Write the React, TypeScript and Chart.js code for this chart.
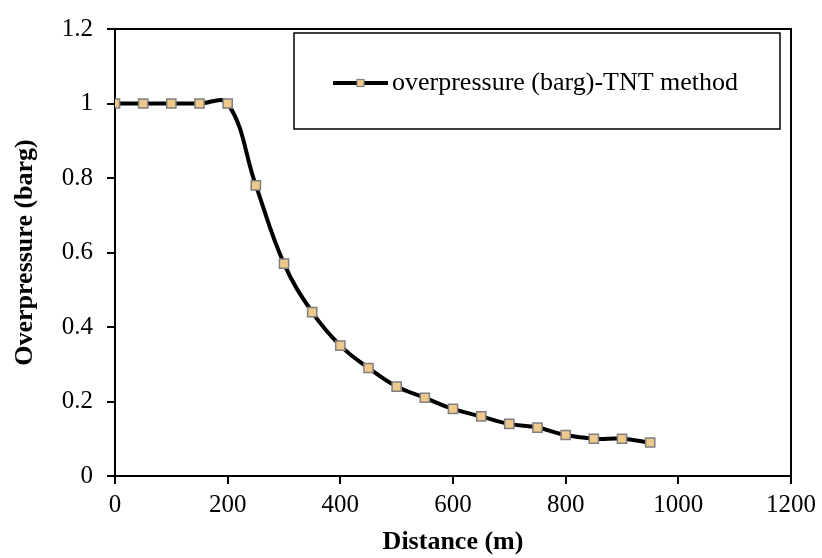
import React, { useEffect, useRef } from "react";
import { Chart, registerables } from "chart.js";

Chart.register(...registerables);

const distances = [0, 50, 100, 150, 200, 250, 300, 350, 400, 450, 500, 550, 600, 650, 700, 750, 800, 850, 900, 950];
const overpressure = [1, 1, 1, 1, 1, 0.78, 0.57, 0.44, 0.35, 0.29, 0.24, 0.21, 0.18, 0.16, 0.14, 0.13, 0.11, 0.1, 0.1, 0.09];
const seriesLabel = "overpressure (barg)-TNT method";
const xTitle = "Distance (m)";
const yTitle = "Overpressure (barg)";

const FONT = "'Liberation Serif', 'Times New Roman', serif";
const MARKER_FILL = "#EFC98B";
const MARKER_BORDER = "#7F7F7F";

const fmt = (v: any) => String(Math.round(Number(v) * 1000) / 1000);

const framePlugin = {
  id: "frameAndLegend",
  afterDraw(chart: any) {
    const { ctx, chartArea } = chart;
    ctx.save();
    ctx.strokeStyle = "#000";
    ctx.lineWidth = 2;
    ctx.beginPath();
    ctx.moveTo(chartArea.left, chartArea.top);
    ctx.lineTo(chartArea.right, chartArea.top);
    ctx.lineTo(chartArea.right, chartArea.bottom);
    ctx.stroke();

    const bx = 294, by = 33, bw = 486, bh = 96;
    ctx.fillStyle = "#fff";
    ctx.fillRect(bx, by, bw, bh);
    ctx.lineWidth = 1.5;
    ctx.strokeStyle = "#000";
    ctx.strokeRect(bx, by, bw, bh);
    const cy = by + bh / 2 + 2;
    ctx.lineWidth = 4;
    ctx.beginPath();
    ctx.moveTo(333, cy);
    ctx.lineTo(388, cy);
    ctx.stroke();
    ctx.fillStyle = MARKER_FILL;
    ctx.strokeStyle = MARKER_BORDER;
    ctx.lineWidth = 1.2;
    ctx.fillRect(357, cy - 3.5, 7, 7);
    ctx.strokeRect(357, cy - 3.5, 7, 7);
    ctx.fillStyle = "#000";
    ctx.font = `26px ${FONT}`;
    ctx.textBaseline = "middle";
    ctx.textAlign = "left";
    ctx.fillText(chart.data.datasets[0].label, 392, cy);
    ctx.restore();
  },
};

export default function App() {
  const ref = useRef<HTMLCanvasElement>(null);
  useEffect(() => {
    if (!ref.current) return;
    const chart = new Chart(ref.current, {
      type: "line",
      data: {
        datasets: [
          {
            label: seriesLabel,
            data: distances.map((x, i) => ({ x, y: overpressure[i] })),
            borderColor: "#000",
            borderWidth: 4,
            tension: 0.4,
            pointStyle: "rect",
            pointRadius: 6.5,
            pointBackgroundColor: MARKER_FILL,
            pointBorderColor: MARKER_BORDER,
            pointBorderWidth: 1.5,
            fill: false,
          },
        ],
      },
      options: {
        responsive: false,
        animation: false,
        devicePixelRatio: 1,
        layout: { padding: { top: 19, right: 30, left: 0, bottom: 0 } },
        plugins: { legend: { display: false }, tooltip: { enabled: false } },
        scales: {
          x: {
            type: "linear",
            min: 0,
            max: 1200,
            ticks: { stepSize: 200, color: "#000", font: { family: FONT, size: 25 }, padding: 6, maxRotation: 0, callback: fmt },
            grid: { drawOnChartArea: false, drawTicks: true, tickLength: 8, color: "#000", lineWidth: 2 },
            border: { color: "#000", width: 2 },
            title: { display: true, text: xTitle, color: "#000", font: { family: FONT, size: 26, weight: "bold", lineHeight: 1.2 }, padding: { top: 0, bottom: 0 } },
            afterFit: (s: any) => { s.height = 82; },
          },
          y: {
            min: 0,
            max: 1.2,
            ticks: { stepSize: 0.2, color: "#000", font: { family: FONT, size: 25 }, padding: 14, callback: fmt },
            grid: { drawOnChartArea: false, drawTicks: true, tickLength: 8, color: "#000", lineWidth: 2 },
            border: { color: "#000", width: 2 },
            title: { display: true, text: yTitle, color: "#000", font: { family: FONT, size: 26, weight: "bold", lineHeight: 1.2 }, padding: { top: 10, bottom: 0 } },
            afterFit: (s: any) => { s.width = 115; },
          },
        },
      },
      plugins: [framePlugin],
    });
    return () => chart.destroy();
  }, []);
  return (
    <div style={{ position: "fixed", left: 0, top: 0, width: 822, height: 558, background: "#fff" }}>
      <canvas ref={ref} width={822} height={558} style={{ display: "block" }} />
    </div>
  );
}
